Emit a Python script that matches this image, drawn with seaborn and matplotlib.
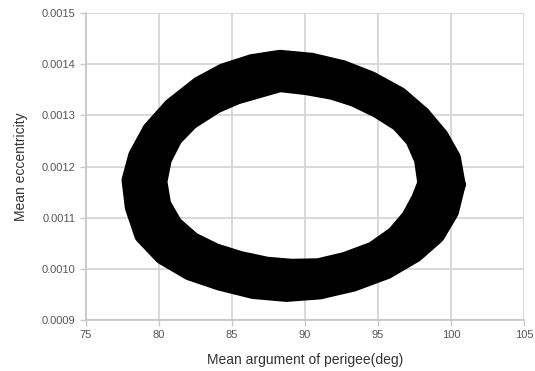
import numpy as np
import pandas as pd
import matplotlib
matplotlib.use("Agg")
import matplotlib.pyplot as plt
import seaborn as sns
from matplotlib.ticker import FormatStrFormatter

# Mean argument of perigee (deg) / mean eccentricity, read along three bands of the ring
outer_x = [100.41, 100.09, 99.26, 98.01, 96.47, 94.50, 92.57, 90.45, 88.29, 86.37,
           84.41, 82.76, 80.88, 79.45, 78.48, 78.03, 78.25, 78.90, 80.25, 82.10,
           84.18, 86.47, 88.73, 91.01, 93.29, 95.59, 97.53, 98.99, 99.95]
outer_y = [0.0011646, 0.0012162, 0.0012584, 0.0013008, 0.0013387, 0.0013695, 0.0013910,
           0.0014053, 0.0014111, 0.0014027, 0.0013846, 0.0013592, 0.0013170, 0.0012715,
           0.0012209, 0.0011732, 0.0011205, 0.0010658, 0.0010252, 0.0009943, 0.0009742,
           0.0009580, 0.0009523, 0.0009572, 0.0009723, 0.0009967, 0.0010291, 0.0010656,
           0.0011117]

middle_x = [99.35, 99.08, 98.36, 97.23, 95.72, 93.94, 92.23, 90.27, 88.29, 86.64,
            84.86, 83.32, 81.51, 80.24, 79.38, 79.01, 79.25, 79.97, 81.27, 82.98,
            84.86, 86.92, 88.90, 90.96, 93.01, 95.14, 96.85, 98.08, 98.90]
middle_y = [0.0011660, 0.0012148, 0.0012559, 0.0012930, 0.0013252, 0.0013516, 0.0013691,
            0.0013809, 0.0013867, 0.0013770, 0.0013613, 0.0013398, 0.0013027, 0.0012637,
            0.0012178, 0.0011719, 0.0011230, 0.0010762, 0.0010400, 0.0010137, 0.0009961,
            0.0009824, 0.0009775, 0.0009805, 0.0009941, 0.0010166, 0.0010479, 0.0010830,
            0.0011240]

inner_x = [98.29, 98.06, 97.45, 96.44, 94.97, 93.38, 91.88, 90.10, 88.29, 86.92,
           85.32, 83.89, 82.14, 81.03, 80.29, 79.98, 80.24, 81.03, 82.29, 83.86,
           85.54, 87.37, 89.08, 90.91, 92.74, 94.68, 96.17, 97.18, 97.86]
inner_y = [0.0011674, 0.0012135, 0.0012533, 0.0012852, 0.0013117, 0.0013336, 0.0013473,
           0.0013564, 0.0013623, 0.0013512, 0.0013381, 0.0013205, 0.0012885, 0.0012559,
           0.0012145, 0.0011705, 0.0011256, 0.0010865, 0.0010549, 0.0010330, 0.0010180,
           0.0010068, 0.0010027, 0.0010037, 0.0010160, 0.0010365, 0.0010666, 0.0011004,
           0.0011363]

x_ticks = [75, 80, 85, 90, 95, 100, 105]
y_ticks = [0.0009, 0.0010, 0.0011, 0.0012, 0.0013, 0.0014, 0.0015]
x_label = "Mean argument of perigee(deg)"
y_label = "Mean eccentricity"

frames = []
for name, xs, ys in [("outer", outer_x, outer_y), ("middle", middle_x, middle_y),
                     ("inner", inner_x, inner_y)]:
    frames.append(pd.DataFrame({"track": name, "x": xs + [xs[0]], "y": ys + [ys[0]]}))
df = pd.concat(frames, ignore_index=True)

sns.set_style("white")
plt.rcParams["font.family"] = ["Liberation Sans", "DejaVu Sans"]

fig = plt.figure(figsize=(5.35, 3.71), dpi=100)
ax = fig.add_axes([86 / 535, 51 / 371, 438 / 535, 307 / 371])

sns.lineplot(data=df, x="x", y="y", units="track", estimator=None, sort=False,
             color="black", linewidth=12.5, ax=ax, legend=False, zorder=3)
for ln in ax.lines:
    ln.set_solid_joinstyle("round")
    ln.set_solid_capstyle("round")
sns.scatterplot(data=df, x="x", y="y", color="black", s=14, linewidth=0,
                ax=ax, legend=False, zorder=4)

ax.set_xlim(75, 105)
ax.set_ylim(0.0009, 0.0015)
ax.set_xticks(x_ticks)
ax.set_yticks(y_ticks)
ax.yaxis.set_major_formatter(FormatStrFormatter("%.4f"))
ax.grid(True, color="#d6d6d6", linewidth=1.3, zorder=0)
ax.set_axisbelow(True)
for side in ["top", "right"]:
    ax.spines[side].set_visible(False)
for side in ["left", "bottom"]:
    ax.spines[side].set_color("#c8c8c8")
    ax.spines[side].set_linewidth(1.3)
ax.tick_params(axis="both", which="both", length=4.5, width=1, color="#c8c8c8",
               labelsize=8, labelcolor="#555555", pad=3, direction="out")
ax.tick_params(left=True, bottom=True)
ax.set_xlabel(x_label, fontsize=10, color="#333333", labelpad=9)
ax.set_ylabel(y_label, fontsize=10, color="#333333", labelpad=10)

fig.savefig("out.png", dpi=100)
